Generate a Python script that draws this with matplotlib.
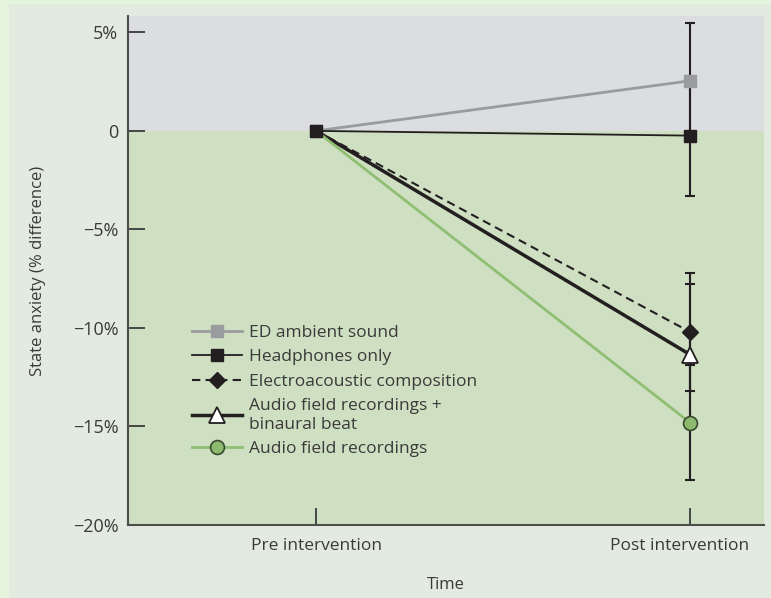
import numpy as np
import matplotlib.pyplot as plt
from matplotlib.patches import Rectangle
from matplotlib.transforms import ScaledTranslation

# data
times = ["Pre intervention", "Post intervention"]
ed_ambient = [0, 2.54]
headphones = [0, -0.24]
electro = [0, -10.2]
binaural = [0, -11.35]
audio_field = [0, -14.8]

# error bars at post intervention
ed_err = 2.95
headphones_err = 3.04
electro_err = 3.0
binaural_err = 3.6
audio_err = 2.9

yticks = [5, 0, -5, -10, -15, -20]
yticklabels = ["5%", "0", "\u22125%", "\u221210%", "\u221215%", "\u221220%"]

plt.rcParams['font.family'] = ['Open Sans', 'DejaVu Sans']
txt = "#3a3a3a"

fig = plt.figure(figsize=(7.71, 5.98), dpi=100, facecolor="#e5f5dd")
fig.patches.append(Rectangle((9/771, 0), 1, 1 - 3.5/598, transform=fig.transFigure,
                             facecolor="#e3eadf", edgecolor="none", zorder=-5))
ax = fig.add_axes([128/771, 73/598, 636/771, 509/598])
ax.set_facecolor("none")

x = np.arange(len(times))
ax.axhspan(0, 6, color="#dcdde0", zorder=0, lw=0)
ax.axhspan(-20, 0, color="#cfdfc2", zorder=0, lw=0)

for val, err in [(ed_ambient[1], ed_err), (headphones[1], headphones_err),
                 (electro[1], electro_err), (binaural[1], binaural_err),
                 (audio_field[1], audio_err)]:
    ax.errorbar(x[1], val, yerr=err, color="#231f20", lw=1.5, capsize=3.4,
                capthick=1.5, zorder=2)

ax.plot(x, ed_ambient, color="#9a9b9e", lw=2, marker="s", ms=9, mfc="#9a9b9e",
        mec="#9a9b9e", label="ED ambient sound", zorder=3)
ax.plot(x, headphones, color="#231f20", lw=1.3, marker="s", ms=9, mfc="#231f20",
        mec="#231f20", label="Headphones only", zorder=7)
ax.plot(x, electro, color="#231f20", lw=1.5, ls=(0, (4, 2.5)), marker="D", ms=8,
        mfc="#231f20", mec="#231f20", markevery=[1],
        label="Electroacoustic composition", zorder=4)
ax.plot(x, binaural, color="#231f20", lw=2.5, marker="^", ms=11.5, mfc="white",
        mec="#231f20", mew=1.3, markevery=[1],
        label="Audio field recordings +\nbinaural beat", zorder=5)
ax.plot(x, audio_field, color="#8fbf72", lw=2, marker="o", ms=10, mfc="#8cb96e",
        mec="#3a4a30", mew=1.2, markevery=[1],
        label="Audio field recordings", zorder=6)

ax.set_xlim(-0.503, 1.198)
ax.set_ylim(-20, 5.83)
ax.set_xticks(x)
ax.set_xticklabels(times, fontsize=12.5, color=txt)
ax.set_yticks(yticks)
ax.set_yticklabels(yticklabels, fontsize=13, color=txt)
ax.tick_params(axis="both", direction="in", length=12, width=1.3, color="#3a3a3a")
ax.tick_params(axis="x", pad=9)
ax.tick_params(axis="y", pad=7)
lab = ax.get_xticklabels()[1]
lab.set_transform(lab.get_transform() + ScaledTranslation(-0.10, 0, fig.dpi_scale_trans))

for s in ["top", "right"]:
    ax.spines[s].set_visible(False)
for s in ["left", "bottom"]:
    ax.spines[s].set_color("#4d4d4d")
    ax.spines[s].set_linewidth(1.5)
    ax.spines[s].set_zorder(8)

ax.set_ylabel("State anxiety (% difference)", fontsize=12, color=txt, labelpad=19)
ax.set_xlabel("Time", fontsize=12, color=txt, labelpad=17)

leg = ax.legend(loc="upper left", bbox_to_anchor=(0.076, 0.424), frameon=False,
                fontsize=12.5, handlelength=2.9, handletextpad=0.4,
                labelspacing=0.48, labelcolor=txt)

fig.savefig("out.png", dpi=100, facecolor=fig.get_facecolor())
